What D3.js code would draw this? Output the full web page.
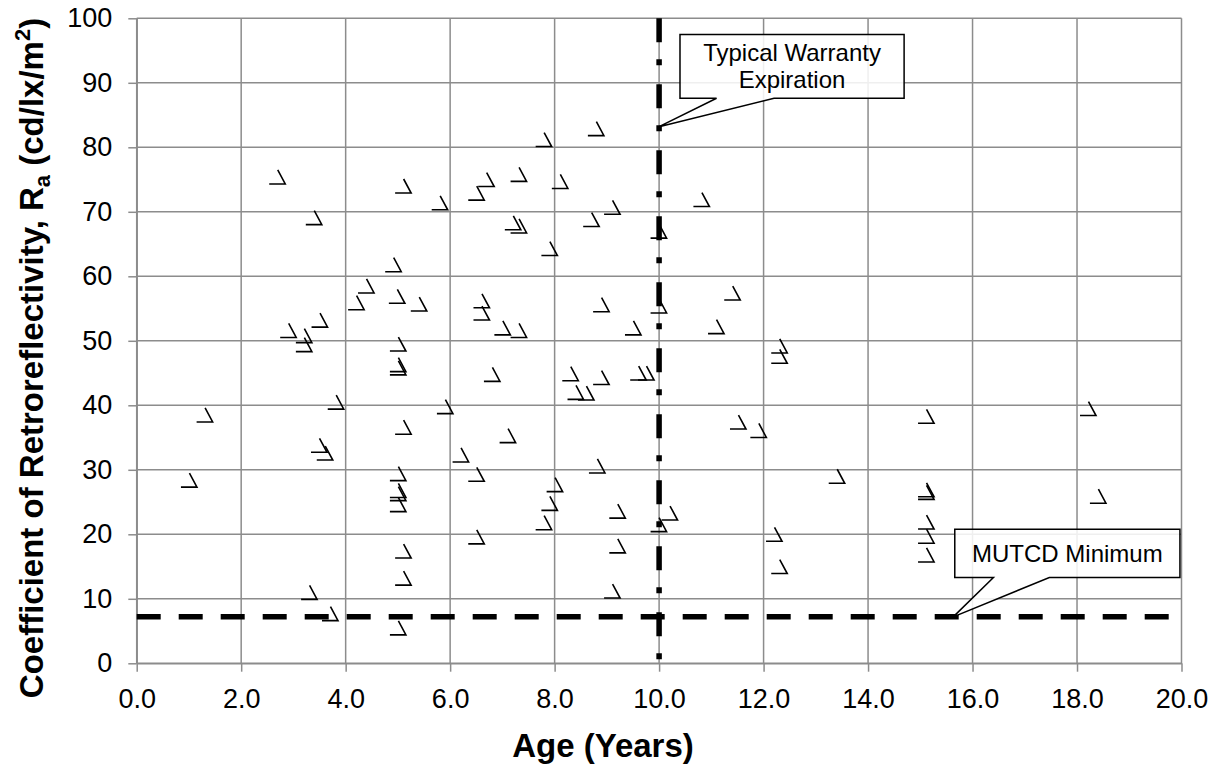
<!DOCTYPE html>
<html>
<head>
<meta charset="utf-8">
<script src="https://cdn.jsdelivr.net/npm/d3@7"></script>
<style>
  html, body { margin: 0; padding: 0; background: #fff; }
  svg { display: block; font-family: "Liberation Sans", Arial, sans-serif; }
</style>
</head>
<body>
<svg id="chart" width="1220" height="774"></svg>
<script>
// Pavement marking retroreflectivity vs. age
const ageYears = [
  1.00, 1.30, 2.69, 2.90, 3.20, 3.20, 3.39, 3.50, 3.30, 3.49,
  3.60, 3.70, 3.81, 4.20, 4.39, 4.91, 4.98, 5.40, 5.00, 5.00,
  5.00, 5.10, 5.00, 5.00, 5.00, 5.00, 5.10, 5.10, 5.00, 5.10,
  5.80, 6.50, 6.69, 6.60, 6.60, 5.90, 6.20, 6.50, 6.50, 6.80,
  7.31, 7.20, 7.31, 7.00, 7.31, 7.10, 7.79, 8.10, 7.90, 8.70,
  8.79, 9.10, 8.89, 9.50, 8.30, 8.89, 8.40, 8.60, 9.60, 9.75,
  8.81, 8.00, 7.90, 7.79, 9.20, 9.20, 9.10, 9.99, 9.99, 9.99,
  10.20, 10.81, 11.40, 11.09, 11.51, 11.90, 12.30, 12.30, 12.20, 12.30,
  13.40, 15.11, 15.11, 15.11, 15.11, 15.11, 15.11, 18.21, 18.40
];
const retroValues = [
  28.4, 38.5, 75.4, 51.6, 50.8, 49.4, 69.1, 53.2, 11.0, 33.8,
  32.6, 7.7, 40.5, 55.9, 58.5, 61.8, 56.9, 55.7, 49.5, 46.3,
  45.8, 36.6, 29.4, 26.8, 26.3, 24.6, 17.4, 13.2, 5.5, 74.0,
  71.4, 72.9, 75.0, 56.2, 54.3, 39.8, 32.3, 29.3, 19.6, 44.8,
  75.8, 68.3, 67.8, 52.0, 51.6, 35.3, 81.2, 74.7, 64.3, 68.8,
  82.9, 70.7, 55.6, 52.0, 44.9, 44.3, 42.0, 41.9, 45.0, 45.0,
  30.6, 27.7, 24.8, 21.8, 23.6, 18.2, 11.2, 67.0, 55.4, 21.5,
  23.3, 71.9, 57.4, 52.2, 37.4, 36.1, 49.2, 47.6, 20.0, 15.0,
  29.0, 38.3, 26.9, 26.5, 21.9, 19.7, 16.8, 39.5, 25.9
];
const xTickValues = [0, 2, 4, 6, 8, 10, 12, 14, 16, 18, 20];
const yTickValues = [0, 10, 20, 30, 40, 50, 60, 70, 80, 90, 100];

// Reference lines
const warrantyAge = 10;          // typical warranty expiration (years)
const mutcdMinimum = 7.2;        // MUTCD minimum retroreflectivity

// Callout annotations (data coordinates)
const warrantyNote = { lines: ["Typical Warranty", "Expiration"], x0: 10.40, x1: 14.69, yTop: 97.5, yBot: 87.6, base0: 11.10, base1: 12.20, tipX: 10, tipY: 83.2 };
const mutcdNote = { lines: ["MUTCD Minimum"], x0: 15.66, x1: 19.97, yTop: 20.8, yBot: 13.3, base0: 16.40, base1: 17.47, tipX: 15.63, tipY: 7.2 };

const svg = d3.select("#chart");
const plot = { left: 136.7, right: 1181.5, top: 18.3, bottom: 663.3 };

const x = d3.scaleLinear().domain([0, 20]).range([plot.left, plot.right]);
const y = d3.scaleLinear().domain([0, 100]).range([plot.bottom, plot.top]);

const gridColor = "#8c8c8c";

// Gridlines
const grid = svg.append("g").attr("class", "grid");
grid.selectAll("line.v").data(xTickValues).join("line")
  .attr("class", "v")
  .attr("x1", d => x(d)).attr("x2", d => x(d))
  .attr("y1", y(0)).attr("y2", y(100))
  .attr("stroke", gridColor).attr("stroke-width", 1.5);
grid.selectAll("line.h").data(yTickValues).join("line")
  .attr("class", "h")
  .attr("x1", x(0)).attr("x2", x(20))
  .attr("y1", d => y(d)).attr("y2", d => y(d))
  .attr("stroke", gridColor).attr("stroke-width", 1.5);

// Axes
const yAxis = svg.append("g")
  .attr("transform", `translate(${plot.left},0)`)
  .call(d3.axisLeft(y).tickValues(yTickValues).tickSize(8.4).tickSizeOuter(0).tickPadding(16).tickFormat(d3.format("d")));
const xAxis = svg.append("g")
  .attr("transform", `translate(0,${plot.bottom})`)
  .call(d3.axisBottom(x).tickValues(xTickValues).tickSize(8.4).tickSizeOuter(0).tickPadding(17).tickFormat(d3.format(".1f")));
[yAxis, xAxis].forEach(g => {
  g.select(".domain").attr("stroke", gridColor).attr("stroke-width", 1.5);
  g.selectAll(".tick line").attr("stroke", gridColor).attr("stroke-width", 1.5);
  g.selectAll(".tick text")
    .attr("fill", "#000")
    .style("font-family", "'Liberation Sans', Arial, sans-serif")
    .style("font-size", "27px");
});

// MUTCD minimum (dashed) and warranty expiration (long dash-dot)
svg.append("line")
  .attr("x1", x(0)).attr("x2", x(20))
  .attr("y1", y(mutcdMinimum)).attr("y2", y(mutcdMinimum))
  .attr("stroke", "#000").attr("stroke-width", 5.5)
  .attr("stroke-dasharray", "24,18");
svg.append("line")
  .attr("x1", x(warrantyAge)).attr("x2", x(warrantyAge))
  .attr("y1", y(100)).attr("y2", y(0))
  .attr("stroke", "#000").attr("stroke-width", 5.5)
  .attr("stroke-dasharray", "24,17,6,19");

// Data markers
const points = ageYears.map((a, i) => ({ age: a, ra: retroValues[i] }));
svg.append("g").attr("class", "markers")
  .selectAll("path").data(points).join("path")
  .attr("transform", d => `translate(${x(d.age)},${y(d.ra)})`)
  .attr("d", "M0.5,-7 L8,7 L-8,7")
  .attr("fill", "none")
  .attr("stroke", "#000")
  .attr("stroke-width", 1.6)
  .attr("stroke-linejoin", "miter");

// Callouts
function callout(note, fontSize, lineGap, firstBaseline) {
  const g = svg.append("g");
  const L = x(note.x0), R = x(note.x1), T = y(note.yTop), B = y(note.yBot);
  const path = `M${L},${T} H${R} V${B} H${x(note.base1)} L${x(note.tipX)},${y(note.tipY)} L${x(note.base0)},${B} H${L} Z`;
  g.append("path").attr("d", path)
    .attr("fill", "rgba(255,255,255,0.86)")
    .attr("stroke", "#000").attr("stroke-width", 1.5).attr("stroke-linejoin", "miter");
  g.selectAll("text").data(note.lines).join("text")
    .attr("x", (L + R) / 2)
    .attr("y", (d, i) => T + firstBaseline + i * lineGap)
    .attr("text-anchor", "middle")
    .style("font-size", fontSize + "px")
    .attr("fill", "#000")
    .text(d => d);
}
callout(warrantyNote, 24, 27, 27);
callout(mutcdNote, 24, 27, 33);

// Axis titles
svg.append("text")
  .attr("x", 603)
  .attr("y", 757)
  .attr("text-anchor", "middle")
  .style("font-size", "33px").style("font-weight", "bold")
  .text("Age (Years)");

const yTitle = svg.append("text")
  .attr("transform", `translate(43,358) rotate(-90)`)
  .attr("text-anchor", "middle")
  .style("font-size", "33px").style("font-weight", "bold");
yTitle.append("tspan").text("Coefficient of Retroreflectivity,  R");
yTitle.append("tspan").attr("dy", 7).style("font-size", "22px").text("a");
yTitle.append("tspan").attr("dy", -7).text(" (cd/lx/m");
yTitle.append("tspan").attr("dy", -13).style("font-size", "22px").text("2");
yTitle.append("tspan").attr("dy", 13).text(")");
</script>
</body>
</html>
